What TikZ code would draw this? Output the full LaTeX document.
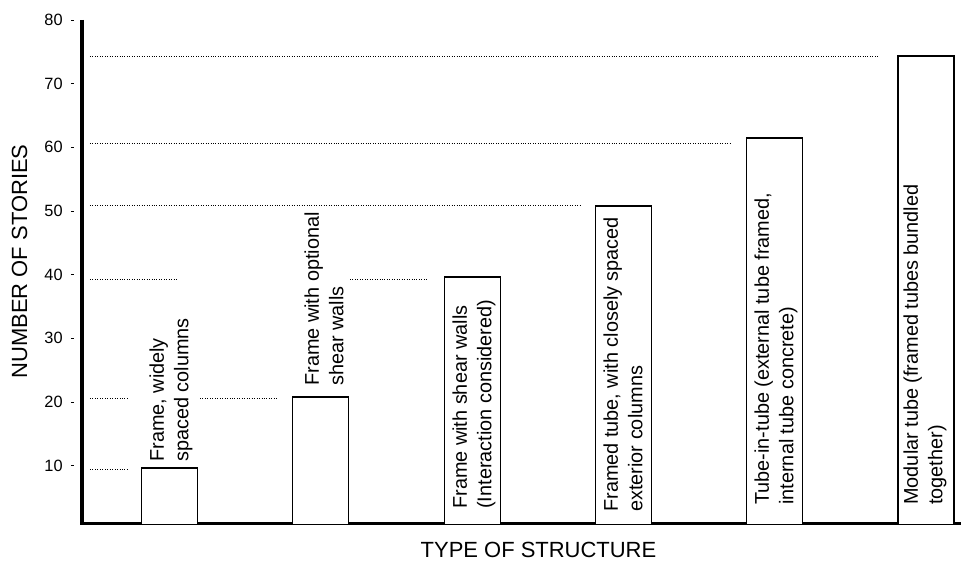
\documentclass[tikz,border=0pt]{standalone}
\usepackage{fontspec}
\setmainfont{Liberation Sans}
\usepackage{xcolor}
\usepackage{tikz}

\begin{document}
\begin{tikzpicture}[
                % Style of the bars
                barbox/.style={draw=black, line width=1pt, fill=white, anchor=south, minimum width=1.12cm, inner sep=0pt},
                % Style of the rotated bar texts
                barlabel/.style={rotate=90, anchor=west, align=left, inner sep=0pt, font=\fontsize{11.3}{14}\selectfont},
                % Style of the dotted guide lines
                guide/.style={draw=black, line width=0.55pt, dash pattern=on 0.5pt off 0.9pt},
                % Style of the axes
                axisline/.style={draw=black, line width=1.9pt},
                % Style of the tick labels and marks
                ticklabel/.style={anchor=east, inner sep=0pt, font=\fontsize{9.3}{11}\selectfont},
                tickmark/.style={draw=black, line width=0.5pt},
                % Style of the axis titles
                axistitle/.style={font=\fontsize{12.5}{15}\selectfont}
            ]
                \useasboundingbox (-1.64,-0.93) rectangle (17.58,10.47);

                % --- AXES ---
                \coordinate (origin) at (0,0);
                \coordinate (ytop) at (0,10.07);
                \coordinate (xend) at (17.58,0);
                \draw[axisline] (ytop) -- (origin) -- (xend);

                % --- TICKS ---
                \node[ticklabel] (t10) at (-0.38,1.16) {10};
                \node[ticklabel] (t20) at (-0.38,2.43) {20};
                \node[ticklabel] (t30) at (-0.38,3.71) {30};
                \node[ticklabel] (t40) at (-0.38,4.98) {40};
                \node[ticklabel] (t50) at (-0.38,6.25) {50};
                \node[ticklabel] (t60) at (-0.38,7.53) {60};
                \node[ticklabel] (t70) at (-0.38,8.80) {70};
                \node[ticklabel] (t80) at (-0.38,10.07) {80};
                \draw[tickmark] (-0.22,1.16) -- (-0.16,1.16);
                \draw[tickmark] (-0.22,2.43) -- (-0.16,2.43);
                \draw[tickmark] (-0.22,3.71) -- (-0.16,3.71);
                \draw[tickmark] (-0.22,4.98) -- (-0.16,4.98);
                \draw[tickmark] (-0.22,6.25) -- (-0.16,6.25);
                \draw[tickmark] (-0.22,7.53) -- (-0.16,7.53);
                \draw[tickmark] (-0.22,8.80) -- (-0.16,8.80);
                \draw[tickmark] (-0.22,10.07) -- (-0.16,10.07);

                % --- DOTTED GUIDES (broken where a text stands) ---
                \draw[guide] (0.16,1.08) -- (0.92,1.08);
                \draw[guide] (0.16,2.51) -- (0.92,2.51);
                \draw[guide] (2.36,2.51) -- (3.92,2.51);
                \draw[guide] (0.16,4.89) -- (1.92,4.89);
                \draw[guide] (5.36,4.89) -- (6.92,4.89);
                \draw[guide] (0.16,6.37) -- (10.00,6.37);
                \draw[guide] (0.16,7.60) -- (13.00,7.60);
                \draw[guide] (0.16,9.35) -- (15.94,9.35);

                % --- BARS ---
                \node[barbox, minimum height=1.13cm] (b1) at (1.75,-0.04) {};
                \node[barbox, minimum height=2.55cm] (b2) at (4.77,-0.04) {};
                \node[barbox, minimum height=4.95cm] (b3) at (7.81,-0.04) {};
                \node[barbox, minimum height=6.37cm] (b4) at (10.83,-0.04) {};
                \node[barbox, minimum height=7.73cm] (b5) at (13.85,-0.04) {};
                \node[barbox, minimum height=9.37cm] (b6) at (16.88,-0.04) {};

                % --- BAR TEXTS ---
                \node[barlabel] (l1) at (1.78,1.23) {Frame, widely\\spaced columns};
                \node[barlabel] (l2) at (4.84,2.75) {Frame with optional\\shear walls};
                \node[barlabel] (l3) at (7.84,0.29) {Frame with shear walls\\(Interaction considered)};
                \node[barlabel] (l4) at (10.82,0.23) {Framed tube, with closely spaced\\exterior columns};
                \node[barlabel] (l5) at (13.88,0.37) {Tube-in-tube (external tube framed,\\internal tube concrete)};
                \node[barlabel] (l6) at (16.86,0.37) {Modular tube (framed tubes bundled\\together)};

                % --- AXIS TITLES ---
                \node[axistitle, rotate=90] (ytitle) at (-1.25,5.24) {NUMBER OF STORIES};
                \node[axistitle] (xtitle) at (9.13,-0.53) {TYPE OF STRUCTURE};

            \end{tikzpicture}
\end{document}
